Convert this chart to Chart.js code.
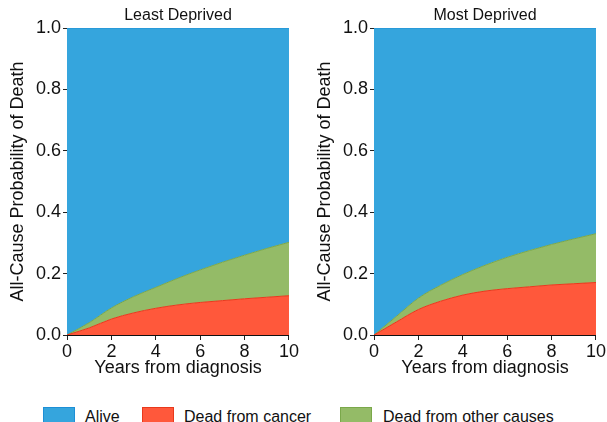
<!DOCTYPE html>
<html>
<head>
<meta charset="utf-8">
<script src="https://cdn.jsdelivr.net/npm/chart.js@4"></script>
<style>
  body { margin: 0; background: #fff; font-family: "Liberation Sans", Arial, sans-serif; }
  #wrap { position: relative; width: 607px; height: 422px; overflow: hidden; }
  .panel { position: absolute; top: 0; width: 300px; height: 385px; }
  .key { position: absolute; top: 407px; height: 16px; width: 32px; box-sizing: border-box; }
  .lbl { position: absolute; top: 408px; font-size: 16px; line-height: 18px; color: #111; white-space: nowrap; }
</style>
</head>
<body>
<div id="wrap">
  <div class="panel" style="left:0"><canvas id="least" width="300" height="385"></canvas></div>
  <div class="panel" style="left:307px"><canvas id="most" width="300" height="385"></canvas></div>

  <div class="key" style="left:43px; background:#35a5dd; border:1px solid #1d8fd6"></div>
  <div class="lbl" style="left:85px">Alive</div>
  <div class="key" style="left:142px; background:#ff583b; border:1px solid #e8391c"></div>
  <div class="lbl" style="left:184px">Dead from cancer</div>
  <div class="key" style="left:340px; background:#94bb67; border:1px solid #7aa84a"></div>
  <div class="lbl" style="left:383px">Dead from other causes</div>
</div>

<script>
const years = [0, 1, 2, 3, 4, 5, 6, 7, 8, 9, 10];

// least deprived
const leastCancer = [0, 0.023, 0.052, 0.072, 0.087, 0.098, 0.106, 0.112, 0.118, 0.123, 0.128];
const leastOther  = [0, 0.017, 0.036, 0.053, 0.068, 0.087, 0.106, 0.125, 0.142, 0.159, 0.174];
const leastAlive  = [1, 0.96, 0.912, 0.875, 0.845, 0.815, 0.788, 0.763, 0.74, 0.718, 0.698];

// most deprived
const mostCancer = [0, 0.042, 0.083, 0.11, 0.13, 0.143, 0.151, 0.157, 0.163, 0.167, 0.171];
const mostOther  = [0, 0.018, 0.037, 0.052, 0.067, 0.084, 0.102, 0.118, 0.132, 0.146, 0.159];
const mostAlive  = [1, 0.94, 0.88, 0.838, 0.803, 0.773, 0.747, 0.725, 0.705, 0.687, 0.67];

const colors = {
  alive:  { fill: "#35a5dd", line: "#1d8fd6" },
  cancer: { fill: "#ff583b", line: "#e8391c" },
  other:  { fill: "#94bb67", line: "#7aa84a" },
};

const FONT = "'Liberation Sans', Arial, sans-serif";

// panel heading, centred over the plot area rather than the whole canvas
const panelTitle = {
  id: "panelTitle",
  afterDraw(chart, args, opts) {
    const { ctx, chartArea } = chart;
    ctx.save();
    ctx.font = "16px " + FONT;
    ctx.fillStyle = "#111";
    ctx.textAlign = "center";
    ctx.textBaseline = "middle";
    ctx.fillText(opts.text, (chartArea.left + chartArea.right) / 2, 16);
    ctx.restore();
  },
};

function series(label, values, c, fill) {
  return {
    label: label,
    data: years.map((x, i) => ({ x: x, y: values[i] })),
    backgroundColor: c.fill,
    borderColor: c.line,
    borderWidth: 1,
    fill: fill,
    pointRadius: 0,
    cubicInterpolationMode: "monotone",
  };
}

function makeChart(id, title, cancer, other, alive) {
  return new Chart(document.getElementById(id), {
    type: "line",
    data: {
      datasets: [
        series("Dead from cancer", cancer, colors.cancer, "origin"),
        series("Dead from other causes", other, colors.other, "-1"),
        series("Alive", alive, colors.alive, "-1"),
      ],
    },
    plugins: [panelTitle],
    options: {
      responsive: false,
      animation: false,
      layout: { padding: { left: 0, right: 10, top: 28, bottom: 0 } },
      plugins: {
        legend: { display: false },
        tooltip: { enabled: false },
        title: { display: false },
        panelTitle: { text: title },
      },
      scales: {
        x: {
          type: "linear",
          min: 0,
          max: 10,
          afterFit: (s) => { s.height = 50; },
          ticks: { stepSize: 2, color: "#111", padding: 1, maxRotation: 0, font: { family: FONT, size: 18 } },
          grid: { drawOnChartArea: false, drawTicks: true, tickLength: 5, color: "#222" },
          border: { color: "#111", width: 1 },
          title: {
            display: true,
            text: "Years from diagnosis",
            color: "#111",
            font: { family: FONT, size: 18 },
            padding: { top: 0, bottom: 6 },
          },
        },
        y: {
          stacked: true,
          min: 0,
          max: 1,
          afterFit: (s) => { s.width = 67; },
          ticks: { stepSize: 0.2, color: "#111", padding: 2, font: { family: FONT, size: 18 },
            callback: (v) => v.toFixed(1) },
          grid: { drawOnChartArea: false, drawTicks: true, tickLength: 4, color: "#222" },
          border: { color: "#111", width: 1 },
          title: {
            display: true,
            text: "All-Cause Probability of Death",
            color: "#111",
            font: { family: FONT, size: 18 },
            padding: { top: 7, bottom: 0 },
          },
        },
      },
    },
  });
}

makeChart("least", "Least Deprived", leastCancer, leastOther, leastAlive);
makeChart("most", "Most Deprived", mostCancer, mostOther, mostAlive);
</script>
</body>
</html>
